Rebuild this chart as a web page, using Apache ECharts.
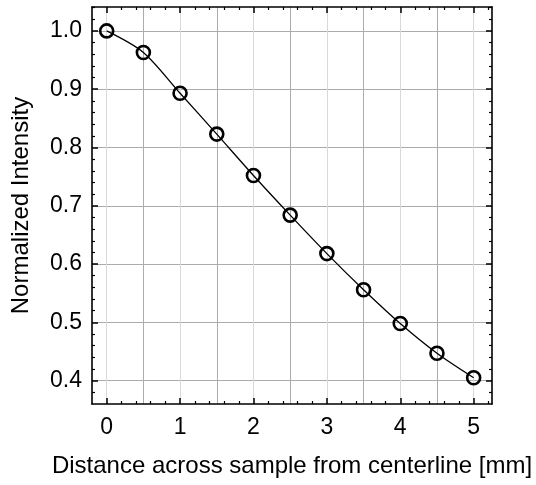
<!DOCTYPE html>
<html>
<head>
<meta charset="utf-8">
<script src="https://cdn.jsdelivr.net/npm/echarts@6/dist/echarts.min.js"></script>
<style>html,body{margin:0;padding:0;background:#fff}#c{width:536px;height:485px}</style>
</head>
<body>
<div id="c"></div>
<script>
// ---- data ----
const distance = [0, 0.5, 1, 1.5, 2, 2.5, 3, 3.5, 4, 4.5, 5];
const intensity = [1.0, 0.963, 0.893, 0.823, 0.752, 0.684, 0.618, 0.556, 0.498, 0.447, 0.405];
const xTicks = [0, 1, 2, 3, 4, 5];
const xHalfGrid = [0.5, 1.5, 2.5, 3.5, 4.5];
const yTicks = [0.4, 0.5, 0.6, 0.7, 0.8, 0.9, 1.0];
const xLabel = 'Distance across sample from centerline [mm]';
const yLabel = 'Normalized Intensity';
const X_MIN = -0.2, X_MAX = 5.25, Y_MIN = 0.36, Y_MAX = 1.041;

const xMinor = [];
for (let i = -1; i <= 26; i++) { const v = +(i * 0.2).toFixed(2); if (i % 5 !== 0 && v > X_MIN && v < X_MAX) xMinor.push(v); }
const yMinor = [];
for (let i = 18; i <= 52; i++) { const v = +(i * 0.02).toFixed(2); if (i % 5 !== 0 && v > Y_MIN && v < Y_MAX) yMinor.push(v); }

const FONT = 'Liberation Sans';
const black = '#000';
function axisBase(extra) {
  return Object.assign({
    type: 'value', gridIndex: 0,
    axisLine: { show: false, onZero: false },
    axisTick: { show: false },
    axisLabel: { show: false },
    splitLine: { show: false }
  }, extra);
}
const xRange = { min: X_MIN, max: X_MAX };
const yRange = { min: Y_MIN, max: Y_MAX };

const xAxes = [
  axisBase(Object.assign({
    position: 'bottom',
    name: xLabel, nameLocation: 'middle', nameGap: 50,
    nameTextStyle: { fontFamily: FONT, fontSize: 24, color: black },
    axisLine: { show: true, onZero: false, lineStyle: { color: black, width: 1.6 } },
    axisTick: { show: true, inside: true, length: 6, customValues: xTicks, lineStyle: { color: black, width: 1.5 } },
    axisLabel: { show: true, customValues: xTicks, margin: 12, fontFamily: FONT, fontSize: 23, color: black, formatter: v => String(v) }
  }, xRange)),
  axisBase(Object.assign({ position: 'bottom',
    axisTick: { show: true, inside: true, length: 3, customValues: xMinor, lineStyle: { color: black, width: 1.2 } } }, xRange)),
  axisBase(Object.assign({ position: 'top',
    axisLine: { show: true, onZero: false, lineStyle: { color: black, width: 1.6 } },
    axisTick: { show: true, inside: true, length: 6, customValues: xTicks, lineStyle: { color: black, width: 1.5 } } }, xRange)),
  axisBase(Object.assign({ position: 'top',
    axisTick: { show: true, inside: true, length: 3, customValues: xMinor, lineStyle: { color: black, width: 1.2 } } }, xRange)),
  axisBase(Object.assign({ position: 'bottom',
    axisTick: { show: false, customValues: xTicks },
    splitLine: { show: true, lineStyle: { color: '#d9d9d9', width: 1 } } }, xRange)),
  axisBase(Object.assign({ position: 'bottom',
    axisTick: { show: false, customValues: xHalfGrid },
    splitLine: { show: true, lineStyle: { color: '#ababab', width: 1 } } }, xRange))
];

const yAxes = [
  axisBase(Object.assign({
    position: 'left',
    name: yLabel, nameLocation: 'middle', nameGap: 59,
    nameTextStyle: { fontFamily: FONT, fontSize: 24, color: black },
    axisLine: { show: true, onZero: false, lineStyle: { color: black, width: 1.6 } },
    axisTick: { show: true, inside: true, length: 6, customValues: yTicks, lineStyle: { color: black, width: 1.5 } },
    axisLabel: { show: true, customValues: yTicks, margin: 10, fontFamily: FONT, fontSize: 23, color: black, formatter: v => v.toFixed(1) },
    splitLine: { show: true, lineStyle: { color: '#ababab', width: 1 } }
  }, yRange)),
  axisBase(Object.assign({ position: 'left',
    axisTick: { show: true, inside: true, length: 3, customValues: yMinor, lineStyle: { color: black, width: 1.2 } } }, yRange)),
  axisBase(Object.assign({ position: 'right',
    axisLine: { show: true, onZero: false, lineStyle: { color: black, width: 1.6 } },
    axisTick: { show: true, inside: true, length: 6, customValues: yTicks, lineStyle: { color: black, width: 1.5 } } }, yRange)),
  axisBase(Object.assign({ position: 'right',
    axisTick: { show: true, inside: true, length: 3, customValues: yMinor, lineStyle: { color: black, width: 1.2 } } }, yRange))
];

const chart = echarts.init(document.getElementById('c'), null, { renderer: 'canvas' });
chart.setOption({
  animation: false,
  backgroundColor: '#fff',
  grid: { left: 92, top: 7, width: 400, height: 397, containLabel: false },
  xAxis: xAxes,
  yAxis: yAxes,
  series: [{
    type: 'line',
    xAxisIndex: 0, yAxisIndex: 0,
    data: distance.map((x, i) => [x, intensity[i]]),
    smooth: 0.3,
    symbol: 'circle',
    symbolSize: 13,
    lineStyle: { color: black, width: 1.3 },
    itemStyle: { color: 'rgba(0,0,0,0)', borderColor: black, borderWidth: 2.6 },
    z: 10
  }]
});
</script>
</body>
</html>
